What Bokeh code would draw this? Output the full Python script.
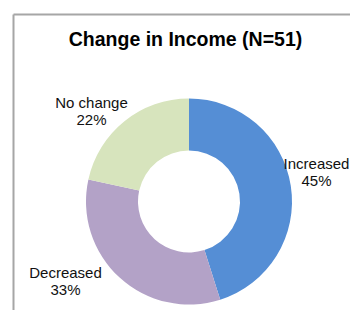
import math
from bokeh.plotting import figure
from bokeh.models import Range1d, ColumnDataSource, Label
from bokeh.embed import file_html
from bokeh.resources import INLINE

title_text = "Change in Income (N=51)"
categories = ["Increased", "Decreased", "No change"]
counts = [23, 17, 11]
pct_labels = ["45%", "33%", "22%"]
colors = ["#558ED5", "#B3A2C7", "#D7E4BD"]

W, H = 350, 310
p = figure(width=W, height=H, output_backend="svg", toolbar_location=None,
           x_range=Range1d(0, W), y_range=Range1d(0, H),
           min_border=0, outline_line_color=None)
p.axis.visible = False
p.grid.visible = False
p.background_fill_color = "white"
p.border_fill_color = "white"

def Y(py):
    return H - py

# chart area border (cropped at right/bottom)
p.segment(x0=[13, 13], y0=[Y(14), Y(14)], x1=[13, 400], y1=[Y(400), Y(14)],
          line_color="#A6A6A6", line_width=2)

total = sum(counts)
starts, ends = [], []
acc = 0.0
for c in counts:
    s = math.pi / 2 - 2 * math.pi * acc / total
    acc += c
    e = math.pi / 2 - 2 * math.pi * acc / total
    starts.append(s)
    ends.append(e)

src = ColumnDataSource(dict(cat=categories, start=starts, end=ends, color=colors))
cx, cy = 188.5, Y(201)
p.annular_wedge(x=cx, y=cy, inner_radius=51, outer_radius=103,
                start_angle="start", end_angle="end", direction="clock",
                fill_color="color", line_color=None, source=src)

p.add_layout(Label(x=185, y=Y(38), text=title_text, text_font="Liberation Sans",
                   text_font_style="bold", text_font_size="19.5px",
                   text_align="center", text_baseline="middle", text_color="black"))

label_pos = {"Increased": (316, 163), "Decreased": (65, 272), "No change": (91, 102)}
for cat, pct in zip(categories, pct_labels):
    lx, ly = label_pos[cat]
    p.add_layout(Label(x=lx, y=Y(ly), text=cat, text_font="Liberation Sans",
                       text_font_size="15px", text_align="center",
                       text_baseline="middle", text_color="#111111"))
    p.add_layout(Label(x=lx, y=Y(ly + 17), text=pct, text_font="Liberation Sans",
                       text_font_size="15px", text_align="center",
                       text_baseline="middle", text_color="#111111"))

open("out.html", "w").write(file_html(p, INLINE))
